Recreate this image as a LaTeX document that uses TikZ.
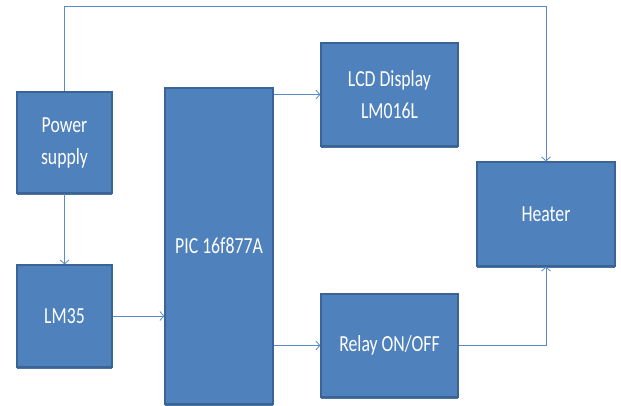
\documentclass[tikz,border=0pt]{standalone}
\usepackage{fontspec}
\newfontfamily\blockfont[FakeStretch=0.77]{Carlito}
\usetikzlibrary{arrows.meta,shadows}
\definecolor{blockblue}{HTML}{4F81BD}
\definecolor{blockedge}{HTML}{3A6496}
\definecolor{wireblue}{HTML}{5B8ACB}
\begin{document}
\begin{tikzpicture}[x=1pt,y=-1pt,
  block/.style={draw=blockedge, fill=blockblue, line width=1.2pt, text=white,
    font=\blockfont\fontsize{23}{32}\selectfont, align=center, inner sep=0pt,
    drop shadow={shadow xshift=0pt, shadow yshift=-1.5pt, fill=blockedge, opacity=0.9}},
  wire/.style={draw=wireblue, line width=0.8pt, -{Straight Barb[length=4pt,width=9pt]}}]
\useasboundingbox (0,0) rectangle (621,405);
\node[block, minimum width=95pt, minimum height=101pt] (power) at (64.5,142.5) {Power\\supply};
\node[block, minimum width=95pt, minimum height=102pt] (lm35) at (64.5,316) {LM35};
\node[block, minimum width=108pt, minimum height=316pt] (pic) at (219,246) {PIC 16f877A};
\node[block, minimum width=137pt, minimum height=103pt] (lcd) at (389.5,94.5) {LCD Display\\LM016L};
\node[block, minimum width=137pt, minimum height=103pt] (relay) at (389.5,345.5) {Relay ON/OFF};
\node[block, minimum width=138pt, minimum height=104pt] (heater) at (546,214) {Heater};
\coordinate (topturn) at (546,6);
\draw[wire] (power.north) |- (topturn) -- (heater.north);
\draw[wire] (power.south) -- (lm35.north);
\draw[wire] (lm35.east) -- (lm35.east -| pic.west);
\draw[wire] (lcd.west -| pic.east) -- (lcd.west);
\draw[wire] (relay.west -| pic.east) -- (relay.west);
\draw[wire] (relay.east) -| (heater.south);
\end{tikzpicture}
\end{document}
